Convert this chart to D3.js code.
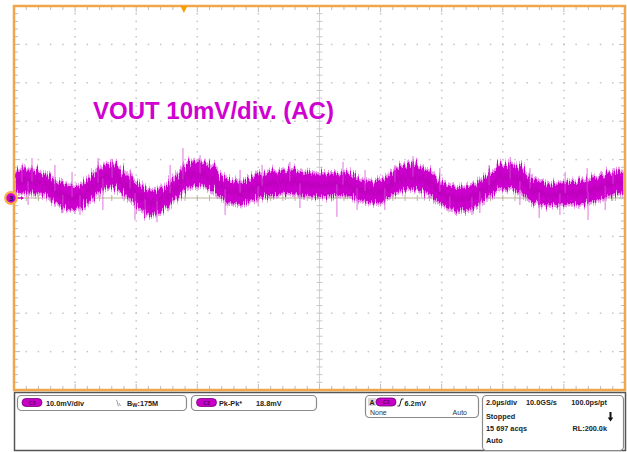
<!DOCTYPE html>
<html><head><meta charset="utf-8">
<script src="https://cdn.jsdelivr.net/npm/d3@7"></script>
<style>html,body{margin:0;padding:0;background:#fff;}svg{display:block;font-family:"Liberation Sans",Arial,sans-serif;}</style>
</head><body>
<svg id="c" width="627" height="452"></svg>
<script>
// ---- data (time in µs, voltage in mV; 2 µs/div, 10 mV/div) ----
const timeUs = [-10,-9.5,-9,-8.5,-8,-7.5,-7,-6.5,-6,-5.5,-5,-4.5,-4,-3.5,-3,-2.5,-2,-1.5,-1,-0.5,0,0.5,1,1.5,2,2.5,3,3.5,4,4.5,5,5.5,6,6.5,7,7.5,8,8.5,9,9.5,10];
const centerMv = [3.9,4.4,3.6,1.0,0.0,2.3,5.7,4.7,1.0,-1.3,0.3,4.7,6.8,4.9,1.8,1.3,3.1,3.6,4.4,3.6,3.4,3.6,3.4,1.8,1.8,4.2,5.7,4.2,1.3,-0.3,0.3,3.1,5.5,4.7,1.8,0.8,1.3,1.3,2.1,3.6,4.2];
const spreadMv = [2.8,3.0,2.7,2.9,3.1,2.8,3.0,2.9,2.7,3.0,2.9,3.1,3.2,2.9,2.8,2.7,2.9,3.0,3.1,2.9,3.0,2.8,2.9,2.7,2.8,3.0,3.2,2.9,2.8,2.9,3.0,2.8,3.1,3.0,2.8,2.7,2.8,2.9,2.8,3.0,2.9];
const spikeTime = [-9.74,-9.41,-8.66,-8.10,-7.25,-6.79,-6.20,-4.89,-4.47,-3.91,-2.60,-1.88,-0.97,0.77,1.49,2.47,3.06,3.94,5.55,6.24,6.89,8.04,8.76,9.61,
                   -9.54,-8.40,-7.84,-7.09,-6.04,-5.71,-5.32,-3.09,-2.01,-0.64,0.57,1.23,2.14,4.27,4.99,5.25,6.56,7.19,7.87,8.79,9.35];
const spikeMv   = [8.6,10.4,8.6,6.8,10.4,9.9,7.3,8.6,13.0,11.2,7.3,8.6,9.4,9.4,7.3,8.6,10.9,7.8,8.6,10.7,7.8,6.8,7.8,7.8,
                   -1.8,-3.9,-4.4,-3.1,-5.7,-5.2,-6.3,-4.4,-1.8,-2.6,-4.9,-3.1,-3.1,-3.6,-4.4,-3.9,-1.8,-5.2,-4.4,-5.7,-3.1];
const xDomain = [-10, 10], xMajor = 2, xMinor = 0.4;
const yDomain = [-50, 50], yMajor = 10, yMinor = 2;
const triggerTimeUs = -4.44;
const title = "VOUT 10mV/div. (AC)";
const chLabel = "C3";
const box1 = {scale: "10.0mV/div", bw: ":175M"};
const box2 = {meas: "Pk-Pk*", value: "18.8mV"};
const box3 = {src: "A", level: "6.2mV", left: "None", right: "Auto"};
const box4 = {rows: [["2.0µs/div","10.0GS/s","100.0ps/pt"],["Stopped","",""],["15 697 acqs","","RL:200.0k"],["Auto","",""]]};

// ---- drawing ----
const svg = d3.select("#c");
const L = 14, R = 625, T = 6, B = 390;
const x = d3.scaleLinear().domain(xDomain).range([L, R]);
const y = d3.scaleLinear().domain(yDomain).range([B, T]);
const MAG = "#cc00cc";
const ORANGE = "#f2a64a";

const defs = svg.append("defs");
const f = defs.append("filter").attr("id", "rough").attr("x", "-5%").attr("y", "-60%").attr("width", "110%").attr("height", "220%");
f.append("feTurbulence").attr("type", "fractalNoise").attr("baseFrequency", "0.9 0.015").attr("numOctaves", 2).attr("seed", 7).attr("result", "n");
f.append("feDisplacementMap").attr("in", "SourceGraphic").attr("in2", "n").attr("scale", 16).attr("xChannelSelector", "A").attr("yChannelSelector", "G");

const xMinors = d3.range(xDomain[0], xDomain[1] + 1e-9, xMinor);
const yMinors = d3.range(yDomain[0], yDomain[1] + 1e-9, yMinor);
const xMajors = d3.range(xDomain[0] + xMajor, xDomain[1] - 1e-9, xMajor);
const yMajors = d3.range(yDomain[0] + yMajor, yDomain[1] - 1e-9, yMajor);

const g = svg.append("g");
// dotted grid
xMajors.filter(v => Math.abs(v) > 1e-9).forEach(v => {
  g.append("g").selectAll("rect").data(yMinors.slice(1, -1)).join("rect")
    .attr("x", x(v) - 0.75).attr("y", d => y(d) - 0.75).attr("width", 1.5).attr("height", 1.5).attr("fill", "#c4c4c4");
});
yMajors.filter(v => Math.abs(v) > 1e-9).forEach(v => {
  g.append("g").selectAll("rect").data(xMinors.slice(1, -1)).join("rect")
    .attr("x", d => x(d) - 0.75).attr("y", y(v) - 0.75).attr("width", 1.5).attr("height", 1.5).attr("fill", "#c4c4c4");
});
// center cross
g.append("line").attr("x1", x(0)).attr("x2", x(0)).attr("y1", T).attr("y2", B).attr("stroke", "#d2d2d2").attr("stroke-width", 1);
g.append("line").attr("x1", L).attr("x2", R).attr("y1", y(0)).attr("y2", y(0)).attr("stroke", "#bdb59c").attr("stroke-width", 1.2);
g.append("g").selectAll("line").data(yMinors.slice(1, -1)).join("line")
  .attr("x1", x(0) - 3).attr("x2", x(0) + 3).attr("y1", d => y(d)).attr("y2", d => y(d)).attr("stroke", "#c8c8c8");
g.append("g").selectAll("line").data(xMinors.slice(1, -1)).join("line")
  .attr("x1", d => x(d)).attr("x2", d => x(d)).attr("y1", y(0) - 3).attr("y2", y(0) + 3).attr("stroke", "#bdb59c");
// edge ticks
const isMaj = (v, m) => Math.abs(v / m - Math.round(v / m)) < 1e-6;
const et = g.append("g").attr("stroke", "#bcbcbc").attr("stroke-width", 1);
xMinors.slice(1, -1).forEach(v => {
  const len = isMaj(v, xMajor) ? 6 : 4;
  et.append("line").attr("x1", x(v)).attr("x2", x(v)).attr("y1", T).attr("y2", T + len);
  et.append("line").attr("x1", x(v)).attr("x2", x(v)).attr("y1", B).attr("y2", B - len);
});
yMinors.slice(1, -1).forEach(v => {
  const len = isMaj(v, yMajor) ? 6 : 4;
  et.append("line").attr("y1", y(v)).attr("y2", y(v)).attr("x1", L).attr("x2", L + len);
  et.append("line").attr("y1", y(v)).attr("y2", y(v)).attr("x1", R).attr("x2", R - len);
});

// trace
const pts = timeUs.map((t, i) => ({t, c: centerMv[i], s: spreadMv[i]}));
svg.append("clipPath").attr("id", "pl").append("rect").attr("x", L + 1).attr("y", T).attr("width", R - L - 1).attr("height", B - T);
const trc = svg.append("g").attr("clip-path", "url(#pl)");
const tr = trc.append("g").attr("filter", "url(#rough)");
const centerAt = t => {
  const i = d3.bisectLeft(timeUs, t);
  if (i <= 0) return centerMv[0];
  if (i >= timeUs.length) return centerMv[centerMv.length - 1];
  const fr = (t - timeUs[i - 1]) / (timeUs[i] - timeUs[i - 1]);
  return centerMv[i - 1] * (1 - fr) + centerMv[i] * fr;
};
const area = d3.area().x(d => x(d.t)).y0(d => y(d.c - d.s)).y1(d => y(d.c + d.s)).curve(d3.curveCatmullRom);
tr.append("path").datum(pts).attr("d", area).attr("fill", "#dd66dd").attr("stroke", "#e070e0").attr("stroke-width", 5).attr("stroke-opacity", 0.7).attr("stroke-linejoin", "round");
tr.append("path").datum(pts).attr("d", area).attr("fill", MAG);
const line = d3.line().x(d => x(d.t)).y(d => y(d.c)).curve(d3.curveCatmullRom);
tr.append("path").datum(pts).attr("d", line).attr("fill", "none").attr("stroke", "#b000b0").attr("stroke-width", 6).attr("stroke-opacity", 0.45);
trc.append("g").selectAll("line").data(spikeTime).join("line")
  .attr("x1", d => x(d)).attr("x2", d => x(d))
  .attr("y1", d => y(centerAt(d))).attr("y2", (d, i) => y(spikeMv[i]))
  .attr("stroke", "#d650d6").attr("stroke-width", 1).attr("stroke-opacity", 0.8);

// border
svg.append("rect").attr("x", L).attr("y", T).attr("width", R - L).attr("height", B - T)
  .attr("fill", "none").attr("stroke", ORANGE).attr("stroke-width", 2.5);

// trigger position marker
const tx = x(triggerTimeUs);
svg.append("path").attr("d", `M${tx - 3.5},${T} L${tx + 3.5},${T} L${tx},${T + 7} Z`).attr("fill", "#f5a000");

// channel marker
svg.append("line").attr("x1", 16).attr("x2", 22).attr("y1", y(0)).attr("y2", y(0)).attr("stroke", MAG).attr("stroke-width", 1.3);
svg.append("path").attr("d", `M${24},${y(0)} l-3,-2 l0,4 Z`).attr("fill", MAG);
svg.append("circle").attr("cx", 11).attr("cy", y(0)).attr("r", 5.8).attr("fill", "#d000d0").attr("stroke", "#f6b04a").attr("stroke-width", 2.2);
svg.append("text").attr("x", 11).attr("y", y(0) + 3).attr("text-anchor", "middle").attr("font-size", 8).attr("font-weight", "bold").attr("fill", "#222").text("3");

// title
svg.append("text").attr("x", 93).attr("y", 119).attr("font-size", 24).attr("font-weight", "bold").attr("fill", "#d000d0").text(title);

// ---- bottom panel ----
const p = svg.append("g");
p.append("rect").attr("x", 14.5).attr("y", 392.5).attr("width", 611).attr("height", 58).attr("fill", "#fff").attr("stroke", "#555").attr("stroke-width", 1.5);
const box = (bx, by, bw, bh) => p.append("rect").attr("x", bx + 0.5).attr("y", by + 0.5).attr("width", bw).attr("height", bh).attr("rx", 4).attr("fill", "#fff").attr("stroke", "#8a8a8a").attr("stroke-width", 1.2);
const pill = (px, py) => {
  p.append("rect").attr("x", px).attr("y", py).attr("width", 20).attr("height", 8).attr("rx", 4).attr("fill", "#c600c6").attr("stroke", "#7a007a").attr("stroke-width", 0.8);
  p.append("text").attr("x", px + 10).attr("y", py + 6).attr("text-anchor", "middle").attr("font-size", 5).attr("font-weight", "bold").attr("fill", "#5a005a").text(chLabel);
};
const txt = (tx_, ty, s, opts = {}) => p.append("text").attr("x", tx_).attr("y", ty).attr("font-size", opts.size || 7.3)
  .attr("font-weight", opts.weight || "bold").attr("fill", opts.fill || "#222").attr("text-anchor", opts.anchor || "start").text(s);

box(17, 395, 169, 15);
pill(22, 398.5);
txt(46, 405.5, box1.scale);
p.append("path").attr("d", "M116,400 q1.5,0 1.5,3 t1.5,3 M119,403 l1.5,3").attr("fill", "none").attr("stroke", "#888").attr("stroke-width", 0.8);
const bwT = txt(127, 405.5, "B");
bwT.append("tspan").attr("font-size", 5.5).attr("dy", 1.5).text("W");
bwT.append("tspan").attr("dy", -1.5).text(box1.bw);

box(191, 395, 125, 15);
pill(196.5, 398.5);
txt(219, 405.5, box2.meas);
txt(256, 405.5, box2.value);

box(365, 395, 113, 22);
p.append("rect").attr("x", 368).attr("y", 398).attr("width", 8).attr("height", 8).attr("fill", "#d8d8d8");
txt(369.5, 405, box3.src, {size: 7});
pill(376, 398);
p.append("path").attr("d", "M397.5,406 l2,0 l2,-7 l2,0").attr("fill", "none").attr("stroke", "#222").attr("stroke-width", 1);
txt(404.5, 405.5, box3.level);
txt(370, 414.5, box3.left, {weight: "normal", size: 7, fill: "#333"});
txt(467, 414.5, box3.right, {weight: "normal", size: 7, fill: "#333", anchor: "end"});

box(482, 395, 141, 55);
const rowY = [405, 418.5, 430.5, 443];
box4.rows.forEach((r, i) => {
  if (r[0]) txt(486, rowY[i], r[0]);
  if (r[1]) txt(526, rowY[i], r[1]);
  if (r[2]) txt(607, rowY[i], r[2], {anchor: "end"});
});
p.append("path").attr("d", "M609.5,412 l2,0 l0,5.5 l1.8,0 l-2.8,4 l-2.8,-4 l1.8,0 Z").attr("fill", "#111");
</script>
</body></html>
